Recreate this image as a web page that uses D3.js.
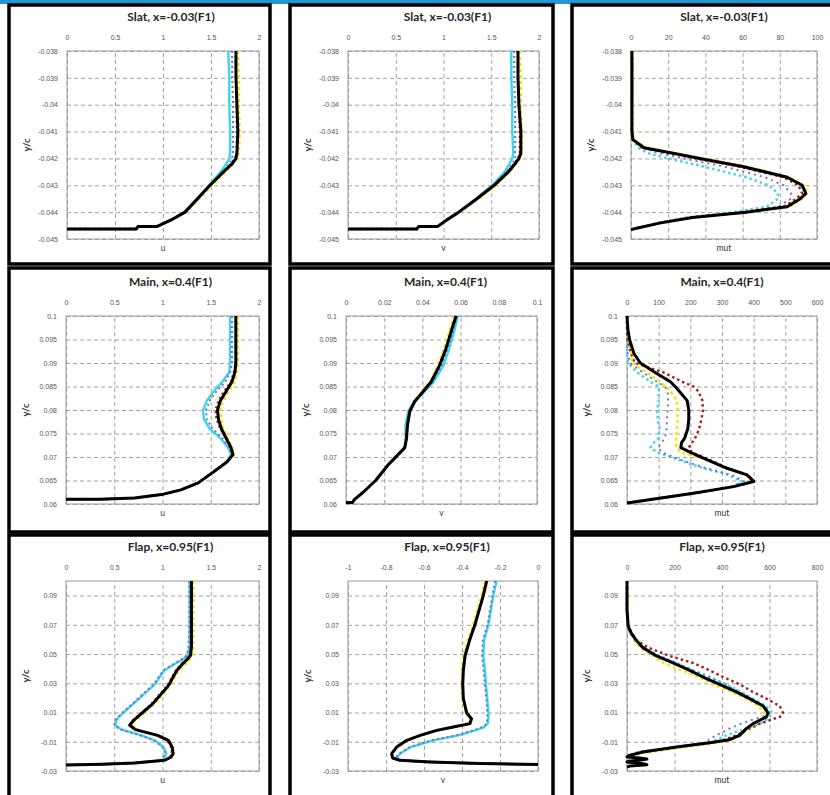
<!DOCTYPE html>
<html>
<head>
<meta charset="utf-8">
<script src="https://cdn.jsdelivr.net/npm/d3@7"></script>
<style>
  body { margin: 0; background: #fff; }
  svg { display: block; font-family: Lato, "Open Sans", sans-serif; }
  .grid line { stroke: #8c8c8c; stroke-width: 0.8; stroke-dasharray: 4,3; }
  .grid path { display: none; }
  .axis path { display: none; }
  .axis text { fill: #555; font-size: 7px; }
  .title { font-size: 12px; font-weight: bold; fill: #262626; }
  .xlabel { font-size: 8.5px; fill: #333; }
  .ylabel { font-size: 9.5px; font-weight: bold; fill: #333; }
</style>
</head>
<body>
<svg id="chart" width="830" height="795"></svg>
<script>
// ---- panel texts and ticks ----
const titles = [
  "Slat, x=-0.03(F1)", "Slat, x=-0.03(F1)", "Slat, x=-0.03(F1)",
  "Main, x=0.4(F1)", "Main, x=0.4(F1)", "Main, x=0.4(F1)",
  "Flap, x=0.95(F1)", "Flap, x=0.95(F1)", "Flap, x=0.95(F1)"
];
const xLabels = ["u", "v", "mut", "u", "v", "mut", "u", "v", "mut"];

const xTicksU = [0, 0.5, 1, 1.5, 2];
const xTicksSlatMut = [0, 20, 40, 60, 80, 100];
const xTicksMainV = [0, 0.02, 0.04, 0.06, 0.08, 0.1];
const xTicksMainMut = [0, 100, 200, 300, 400, 500, 600];
const xTicksFlapV = [-1, -0.8, -0.6, -0.4, -0.2, 0];
const xTicksFlapMut = [0, 200, 400, 600, 800];

const yTicksSlat = [-0.045, -0.044, -0.043, -0.042, -0.041, -0.04, -0.039, -0.038];
const yTicksMain = [0.06, 0.065, 0.07, 0.075, 0.08, 0.085, 0.09, 0.095, 0.1];
const yTicksFlap = [-0.03, -0.01, 0.01, 0.03, 0.05, 0.07, 0.09];
const yDomainFlap = [-0.03, 0.1];

// ---- Slat, u ----
const slatU_y = [-0.038, -0.039, -0.040, -0.041, -0.0418, -0.042, -0.0422, -0.0425, -0.043, -0.0435, -0.044, -0.0443, -0.04453, -0.04453, -0.04463, -0.04463];
const slatU_black  = [1.76, 1.76, 1.77, 1.78, 1.77, 1.76, 1.72, 1.63, 1.49, 1.36, 1.23, 1.08, 0.94, 0.74, 0.72, 0];
const slatU_red    = [1.76, 1.76, 1.77, 1.77, 1.77, 1.75, 1.71, 1.63, 1.49, 1.36, 1.23, 1.08, 0.94, 0.74, 0.72, 0];
const slatU_yellow = [1.78, 1.79, 1.79, 1.80, 1.79, 1.77, 1.73, 1.65, 1.51, 1.38, 1.24, 1.09, 0.94, 0.74, 0.72, 0];
const slatU_cyan   = [1.68, 1.69, 1.69, 1.70, 1.70, 1.69, 1.66, 1.60, 1.48, 1.35, 1.22, 1.08, 0.94, 0.74, 0.72, 0];
const slatU_purple = [1.72, 1.72, 1.73, 1.73, 1.73, 1.72, 1.69, 1.62, 1.49, 1.36, 1.23, 1.08, 0.94, 0.74, 0.72, 0];

// ---- Slat, v ----
const slatV_y = [-0.038, -0.039, -0.040, -0.041, -0.0418, -0.042, -0.0422, -0.0425, -0.043, -0.0435, -0.044, -0.0443, -0.04453, -0.04453, -0.04463, -0.04463];
const slatV_black  = [1.78, 1.78, 1.79, 1.81, 1.81, 1.79, 1.75, 1.68, 1.53, 1.35, 1.16, 1.03, 0.94, 0.74, 0.72, 0];
const slatV_red    = [1.78, 1.78, 1.79, 1.80, 1.80, 1.78, 1.74, 1.67, 1.53, 1.35, 1.16, 1.03, 0.94, 0.74, 0.72, 0];
const slatV_yellow = [1.80, 1.81, 1.81, 1.82, 1.82, 1.80, 1.76, 1.69, 1.55, 1.37, 1.17, 1.04, 0.94, 0.74, 0.72, 0];
const slatV_cyan   = [1.71, 1.71, 1.72, 1.72, 1.73, 1.72, 1.69, 1.64, 1.51, 1.34, 1.15, 1.02, 0.94, 0.74, 0.72, 0];
const slatV_purple = [1.74, 1.74, 1.75, 1.75, 1.75, 1.75, 1.72, 1.66, 1.52, 1.35, 1.16, 1.03, 0.94, 0.74, 0.72, 0];

// ---- Slat, mut ----
const slatMut_y = [-0.038, -0.040, -0.041, -0.0413, -0.0416, -0.0418, -0.042, -0.0423, -0.0427, -0.043, -0.0433, -0.0435, -0.0438, -0.044, -0.0442, -0.0444, -0.0446, -0.04465];
const slatMut_black  = [0.5, 0.5, 0.5, 1, 7, 22, 37, 60, 84, 92, 94, 91, 84, 62, 33, 16, 3, 0];
const slatMut_red    = [0.5, 0.5, 0.5, 1, 6, 20, 35, 58, 82, 90, 92, 89, 82, 60, 32, 15, 3, 0];
const slatMut_yellow = [1, 1, 1, 1.5, 8, 23, 39, 62, 85, 93, 95, 92, 85, 63, 34, 16, 3, 0];
const slatMut_cyan   = [0.5, 0.5, 0.5, 0.5, 4, 9, 20, 39, 62, 74, 79, 79, 73, 55, 30, 15, 3, 0];
const slatMut_purple = [0.5, 0.5, 0.5, 1, 6, 15, 28, 50, 72, 82, 86, 86, 79, 60, 32, 15, 3, 0];

// ---- Main, u ----
const mainU_y = [0.1, 0.095, 0.09, 0.088, 0.086, 0.084, 0.082, 0.08, 0.078, 0.076, 0.074, 0.072, 0.0705, 0.069, 0.067, 0.0645, 0.063, 0.062, 0.0613, 0.0610, 0.0610];
const mainU_black  = [1.76, 1.76, 1.76, 1.75, 1.72, 1.66, 1.60, 1.57, 1.58, 1.61, 1.66, 1.71, 1.73, 1.67, 1.54, 1.37, 1.19, 0.99, 0.71, 0.35, 0];
const mainU_red    = [1.76, 1.76, 1.76, 1.74, 1.71, 1.64, 1.58, 1.55, 1.56, 1.60, 1.66, 1.71, 1.73, 1.67, 1.54, 1.37, 1.19, 0.99, 0.71, 0.35, 0];
const mainU_yellow = [1.78, 1.78, 1.78, 1.77, 1.75, 1.69, 1.63, 1.60, 1.61, 1.63, 1.68, 1.72, 1.74, 1.68, 1.55, 1.38, 1.20, 0.99, 0.71, 0.35, 0];
const mainU_cyan   = [1.70, 1.70, 1.70, 1.69, 1.62, 1.53, 1.46, 1.42, 1.43, 1.49, 1.60, 1.68, 1.71, 1.67, 1.54, 1.37, 1.19, 0.99, 0.71, 0.35, 0];
const mainU_purple = [1.72, 1.72, 1.72, 1.70, 1.65, 1.56, 1.49, 1.45, 1.46, 1.52, 1.62, 1.69, 1.72, 1.67, 1.54, 1.37, 1.19, 0.99, 0.71, 0.35, 0];

// ---- Main, v ----
const mainV_y = [0.1, 0.0966, 0.0931, 0.0895, 0.086, 0.0839, 0.0818, 0.0797, 0.0768, 0.074, 0.072, 0.0705, 0.0683, 0.065, 0.0625, 0.061, 0.0603, 0.0603];
const mainV_black  = [0.0576, 0.055, 0.0524, 0.049, 0.0446, 0.0403, 0.036, 0.0334, 0.0322, 0.0317, 0.0308, 0.0273, 0.022, 0.0155, 0.009, 0.0045, 0.0033, 0];
const mainV_red    = [0.0574, 0.0548, 0.0522, 0.0488, 0.0444, 0.0401, 0.0358, 0.0333, 0.0321, 0.0316, 0.0308, 0.0273, 0.022, 0.0155, 0.009, 0.0045, 0.0033, 0];
const mainV_yellow = [0.0566, 0.0540, 0.0513, 0.0480, 0.0440, 0.0398, 0.0356, 0.0332, 0.0321, 0.0316, 0.0307, 0.0272, 0.022, 0.0155, 0.009, 0.0045, 0.0033, 0];
const mainV_cyan   = [0.0586, 0.0566, 0.0541, 0.0510, 0.0460, 0.0410, 0.0355, 0.0325, 0.0312, 0.0312, 0.0306, 0.0273, 0.022, 0.0155, 0.009, 0.0045, 0.0033, 0];
const mainV_purple = [0.0580, 0.0558, 0.0532, 0.0500, 0.0452, 0.0406, 0.0357, 0.0330, 0.0318, 0.0315, 0.0307, 0.0273, 0.022, 0.0155, 0.009, 0.0045, 0.0033, 0];

// ---- Main, mut ----
const mainMut_y = [0.1, 0.097, 0.095, 0.092, 0.09, 0.088, 0.086, 0.085, 0.084, 0.082, 0.08, 0.078, 0.076, 0.074, 0.073, 0.072, 0.071, 0.0695, 0.0676, 0.0662, 0.0648, 0.0637, 0.0623, 0.0602];
const mainMut_black  = [0, 3, 8, 22, 42, 89, 137, 152, 165, 190, 195, 195, 192, 182, 172, 170, 200, 250, 316, 379, 400, 337, 210, 0];
const mainMut_red    = [0, 0, 2, 12, 25, 115, 175, 210, 225, 238, 240, 235, 228, 215, 205, 195, 205, 258, 318, 382, 402, 338, 210, 0];
const mainMut_yellow = [0, 2, 5, 15, 16, 63, 105, 122, 137, 158, 160, 160, 158, 155, 155, 155, 170, 250, 312, 376, 398, 337, 210, 0];
const mainMut_cyan   = [0, 0, 0, 0, 3, 32, 74, 100, 100, 100, 95, 97, 103, 100, 84, 74, 95, 160, 242, 320, 363, 330, 210, 0];
const mainMut_purple = [0, 0, 0, 2, 10, 50, 95, 120, 128, 130, 128, 126, 125, 120, 108, 98, 110, 165, 250, 330, 370, 332, 210, 0];

// ---- Flap, u ----
const flapU_y = [0.1, 0.09, 0.07, 0.055, 0.049, 0.046, 0.0434, 0.0389, 0.0343, 0.0293, 0.0252, 0.0161, 0.0097, 0.0047, 0.0013, -0.0017, -0.0056, -0.009, -0.0136, -0.0181, -0.0204, -0.0227, -0.0245, -0.0254, -0.0259];
const flapU_black  = [1.30, 1.30, 1.30, 1.30, 1.29, 1.25, 1.21, 1.15, 1.11, 1.07, 1.02, 0.90, 0.79, 0.70, 0.66, 0.72, 0.95, 1.06, 1.10, 1.11, 1.09, 1.02, 0.71, 0.37, 0];
const flapU_red    = [1.30, 1.30, 1.30, 1.30, 1.29, 1.25, 1.20, 1.14, 1.10, 1.06, 1.01, 0.89, 0.78, 0.70, 0.66, 0.72, 0.94, 1.05, 1.09, 1.10, 1.08, 1.02, 0.71, 0.37, 0];
const flapU_yellow = [1.32, 1.32, 1.32, 1.32, 1.31, 1.28, 1.24, 1.17, 1.13, 1.09, 1.04, 0.92, 0.81, 0.72, 0.68, 0.74, 0.96, 1.07, 1.11, 1.12, 1.10, 1.03, 0.71, 0.37, 0];
const flapU_cyan   = [1.28, 1.28, 1.28, 1.28, 1.26, 1.20, 1.13, 1.02, 0.97, 0.92, 0.85, 0.70, 0.59, 0.52, 0.51, 0.58, 0.78, 0.92, 1.01, 1.04, 1.02, 1.00, 0.71, 0.37, 0];
const flapU_purple = [1.28, 1.28, 1.28, 1.27, 1.25, 1.19, 1.12, 1.01, 0.96, 0.91, 0.84, 0.69, 0.58, 0.51, 0.50, 0.57, 0.77, 0.91, 1.00, 1.03, 1.01, 0.99, 0.71, 0.37, 0];

// ---- Flap, v ----
const flapV_y = [0.1, 0.09, 0.07, 0.0594, 0.0487, 0.0389, 0.0293, 0.0195, 0.0097, 0.0058, 0.0024, 0.0001, -0.0022, -0.0056, -0.009, -0.0136, -0.0181, -0.0211, -0.0227, -0.0238, -0.0249, -0.0256];
const flapV_black  = [-0.27, -0.288, -0.332, -0.36, -0.384, -0.393, -0.396, -0.393, -0.375, -0.35, -0.358, -0.446, -0.533, -0.62, -0.69, -0.744, -0.77, -0.765, -0.726, -0.568, -0.305, 0];
const flapV_red    = [-0.272, -0.29, -0.334, -0.362, -0.386, -0.394, -0.397, -0.394, -0.377, -0.352, -0.36, -0.446, -0.533, -0.62, -0.69, -0.744, -0.77, -0.765, -0.726, -0.568, -0.305, 0];
const flapV_yellow = [-0.28, -0.298, -0.342, -0.37, -0.394, -0.401, -0.403, -0.399, -0.381, -0.355, -0.363, -0.452, -0.542, -0.627, -0.694, -0.746, -0.771, -0.765, -0.726, -0.568, -0.305, 0];
const flapV_cyan   = [-0.218, -0.235, -0.261, -0.284, -0.288, -0.279, -0.274, -0.267, -0.261, -0.261, -0.265, -0.284, -0.33, -0.42, -0.55, -0.67, -0.725, -0.745, -0.726, -0.568, -0.305, 0];
const flapV_purple = [-0.225, -0.24, -0.266, -0.29, -0.294, -0.286, -0.28, -0.272, -0.267, -0.267, -0.271, -0.29, -0.34, -0.43, -0.56, -0.675, -0.73, -0.75, -0.726, -0.568, -0.305, 0];

// ---- Flap, mut ----
const flapMut_y = [0.1, 0.08, 0.0692, 0.0644, 0.0594, 0.0544, 0.0487, 0.0439, 0.0389, 0.0343, 0.0293, 0.0241, 0.0195, 0.0145, 0.0097, 0.007, 0.0047, 0.0024, -0.001, -0.0056, -0.0086, -0.0106, -0.0136, -0.017, -0.0193, -0.0204, -0.0211, -0.0218, -0.0227, -0.0234, -0.0238, -0.025, -0.0257, -0.0266, -0.0273];
const flapMut_black  = [0, 0, 5, 18, 39, 67, 124, 194, 264, 320, 390, 460, 516, 573, 594, 587, 559, 531, 502, 474, 432, 348, 208, 67, 11, 0, 53, 84, 53, 4, 0, 67, 84, 11, 0];
const flapMut_red    = [0, 0, 5, 20, 40, 90, 180, 278, 348, 404, 474, 530, 587, 643, 657, 643, 600, 560, 516, 460, 410, 362, 208, 53, 5, 0];
const flapMut_yellow = [2, 2, 7, 15, 30, 55, 111, 153, 230, 300, 362, 440, 501, 556, 577, 575, 560, 540, 508, 480, 440, 376, 250, 100, 20, 0];
const flapMut_cyan   = [0, 0, 3, 12, 35, 70, 139, 210, 278, 350, 417, 480, 529, 584, 612, 600, 584, 560, 500, 417, 380, 348, 210, 67, 10, 0];
const flapMut_purple = [0, 0, 3, 12, 33, 65, 130, 200, 275, 345, 410, 475, 525, 580, 600, 570, 520, 480, 431, 376, 345, 334, 208, 60, 8, 0];

// ---- panel table built from the arrays above ----
const panelData = [
  { y: slatU_y, s: [slatU_cyan, slatU_purple, slatU_red, slatU_yellow, slatU_black], xd: [0, 2], xt: xTicksU, yd: [-0.045, -0.038], yt: yTicksSlat, mut: false },
  { y: slatV_y, s: [slatV_cyan, slatV_purple, slatV_red, slatV_yellow, slatV_black], xd: [0, 2], xt: xTicksU, yd: [-0.045, -0.038], yt: yTicksSlat, mut: false },
  { y: slatMut_y, s: [slatMut_cyan, slatMut_purple, slatMut_red, slatMut_yellow, slatMut_black], xd: [0, 100], xt: xTicksSlatMut, yd: [-0.045, -0.038], yt: yTicksSlat, mut: true },
  { y: mainU_y, s: [mainU_cyan, mainU_purple, mainU_red, mainU_yellow, mainU_black], xd: [0, 2], xt: xTicksU, yd: [0.06, 0.1], yt: yTicksMain, mut: false },
  { y: mainV_y, s: [mainV_cyan, mainV_purple, mainV_red, mainV_yellow, mainV_black], xd: [0, 0.1], xt: xTicksMainV, yd: [0.06, 0.1], yt: yTicksMain, mut: false },
  { y: mainMut_y, s: [mainMut_cyan, mainMut_purple, mainMut_red, mainMut_yellow, mainMut_black], xd: [0, 600], xt: xTicksMainMut, yd: [0.06, 0.1], yt: yTicksMain, mut: true },
  { y: flapU_y, s: [flapU_cyan, flapU_purple, flapU_red, flapU_yellow, flapU_black], xd: [0, 2], xt: xTicksU, yd: yDomainFlap, yt: yTicksFlap, mut: false },
  { y: flapV_y, s: [flapV_cyan, flapV_purple, flapV_red, flapV_yellow, flapV_black], xd: [-1, 0], xt: xTicksFlapV, yd: yDomainFlap, yt: yTicksFlap, mut: false },
  { y: flapMut_y, s: [flapMut_cyan, flapMut_purple, flapMut_red, flapMut_yellow, flapMut_black], xd: [0, 800], xt: xTicksFlapMut, yd: yDomainFlap, yt: yTicksFlap, mut: true }
];

// series drawing order: cyan, purple, red, yellow, black
const seriesStyle = [
  { color: "#3ad6ee", width: 2.4, dash: null, mutDash: "2.5,3" },
  { color: "#7474c4", width: 2, dash: "2,3", mutDash: "2,4" },
  { color: "#a81c1c", width: 2.4, dash: "2,3", mutDash: "2.5,3" },
  { color: "#f2e600", width: 2.4, dash: "3,3", mutDash: "3,3" },
  { color: "#000000", width: 3, dash: null, mutDash: null }
];

// ---- layout ----
const frameX = [[9, 270], [290, 553], [572, 834]];
const frameY = [[5, 264], [268, 532], [535, 798]];
const plotL = [[67, 348, 631], [66, 346, 627], [66, 348, 627]];
const plotR = [[259, 539, 817], [259, 537, 817], [259, 538, 817]];
const plotT = [51, 316, 581];
const plotB = [239, 504, 771];

const fmt = d => d3.format("~g")(d).replace("\u2212", "-");

const svg = d3.select("#chart");

svg.append("rect").attr("x", 0).attr("y", 0).attr("width", 830).attr("height", 4).attr("fill", "#2196d3");

const root = svg.append("g");

panelData.forEach((p, i) => {
  const row = Math.floor(i / 3), col = i % 3;
  const left = plotL[row][col], right = plotR[row][col];
  const top = plotT[row], bottom = plotB[row];
  const w = right - left, h = bottom - top;

  root.append("rect")
    .attr("x", frameX[col][0]).attr("y", frameY[row][0])
    .attr("width", frameX[col][1] - frameX[col][0])
    .attr("height", frameY[row][1] - frameY[row][0])
    .attr("fill", "#fff").attr("stroke", "#000").attr("stroke-width", 3.5);

  const g = root.append("g").attr("transform", `translate(${left},${top})`);

  const x = d3.scaleLinear().domain(p.xd).range([0, w]);
  const y = d3.scaleLinear().domain(p.yd).range([h, 0]);

  g.append("g").attr("class", "grid")
    .attr("transform", `translate(0,${h})`)
    .call(d3.axisBottom(x).tickValues(p.xt).tickSize(-h).tickFormat(""));
  g.append("g").attr("class", "grid")
    .call(d3.axisLeft(y).tickValues(p.yt).tickSize(-w).tickFormat(""));

  g.append("rect").attr("width", w).attr("height", h)
    .attr("fill", "none").attr("stroke", "#9a9a9a").attr("stroke-width", 1);

  g.append("g").attr("class", "axis")
    .call(d3.axisTop(x).tickValues(p.xt).tickSize(0).tickPadding(11).tickFormat(fmt));
  g.append("g").attr("class", "axis")
    .call(d3.axisLeft(y).tickValues(p.yt).tickSize(0).tickPadding(9).tickFormat(fmt));

  const line = d3.line().x(d => x(d[0])).y(d => y(d[1]));

  p.s.forEach((xs, k) => {
    const st = seriesStyle[k];
    const pts = xs.map((v, j) => [v, p.y[j]]);
    const dash = p.mut ? st.mutDash : st.dash;
    g.append("path")
      .datum(pts)
      .attr("d", line)
      .attr("fill", "none")
      .attr("stroke", st.color)
      .attr("stroke-width", st.width)
      .attr("stroke-dasharray", dash)
      .attr("stroke-linejoin", "round");
  });

  g.append("text").attr("class", "title")
    .attr("x", w / 2 + (col === 0 ? 8 : col === 1 ? 4 : 0)).attr("y", -30)
    .attr("text-anchor", "middle").text(titles[i]);

  g.append("text").attr("class", "xlabel")
    .attr("x", w / 2).attr("y", h + 12)
    .attr("text-anchor", "middle").text(xLabels[i]);

  g.append("text").attr("class", "ylabel")
    .attr("transform", `translate(-40,${h / 2}) rotate(-90)`)
    .attr("text-anchor", "middle").attr("dy", "0.35em").text("y/c");
});
</script>
</body>
</html>
